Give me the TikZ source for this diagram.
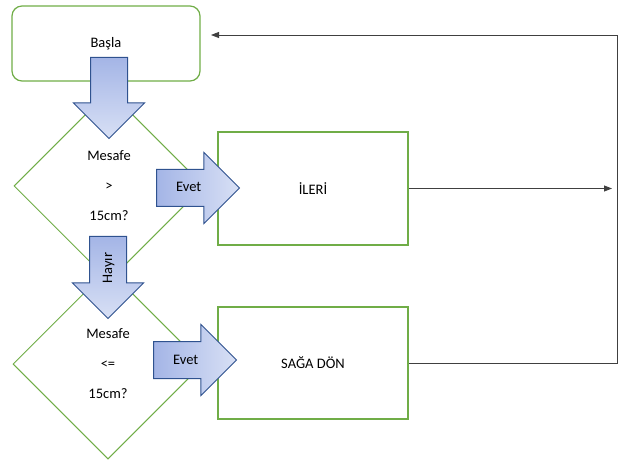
\documentclass[tikz,border=0pt]{standalone}
\usepackage{fontspec}
\setmainfont{Carlito}
\usetikzlibrary{shapes.geometric,shapes.arrows,arrows.meta}
\definecolor{boxgreen}{HTML}{70AD47}
\definecolor{arrowblue}{HTML}{2F528F}
\definecolor{arrowdark}{HTML}{A4B5E6}
\definecolor{arrowlight}{HTML}{D8E0F5}
\definecolor{linegray}{HTML}{404040}

\begin{document}
\begin{tikzpicture}[x=1pt,y=-1pt,font=\fontsize{14.5}{17}\selectfont]

	\tikzstyle{start}=[draw=boxgreen,line width=1.2pt,rounded corners=10pt,
		minimum width=188pt,minimum height=75pt]
	\tikzstyle{decision}=[diamond,draw=boxgreen,line width=1pt,
		minimum width=190pt,minimum height=190pt,inner sep=0pt,
		align=center,font=\fontsize{14.5}{30}\selectfont]
	\tikzstyle{process}=[draw=boxgreen,line width=2pt,
		minimum width=190pt,minimum height=112pt]
	\tikzstyle{block}=[single arrow,draw=arrowblue,line width=1pt,
		single arrow head extend=17pt,minimum height=83pt,minimum width=70pt,
		text height=10pt,text depth=2pt,inner ysep=12pt,inner xsep=4pt,
		anchor=tail]
	\tikzstyle{blockright}=[block,left color=arrowdark,right color=arrowlight]
	\tikzstyle{blockdown}=[block,top color=arrowdark,bottom color=arrowlight,
		shape border rotate=180,rotate=90]
	\tikzstyle{flow}=[draw=linegray,line width=0.9pt,
		-{Triangle[length=8pt,width=6pt]}]

	\useasboundingbox (0,0) rectangle (638,468);

	\node[start]				(basla)		at (106,43.5)	{Başla};
	\node[decision]				(mesafe1)	at (109,186)	{Mesafe\\>\\15cm?};
	\node[decision]				(mesafe2)	at (108,364)	{Mesafe\\<=\\15cm?};
	\node[process,minimum height=113pt]	(ileri)	at (313,188.5)	{İLERİ};
	\node[process]				(saga)		at (313,363)	{SAĞA DÖN};

	\node[blockdown,minimum height=81pt]	(ok1)	at (109,57)	{};
	\node[blockright]			(evet1)		at (156,188)	{Evet};
	\node[blockdown,minimum height=82pt]	(hayir)	at (108,236)	{Hayır};
	\node[blockright]			(evet2)		at (153,360)	{Evet};

	\coordinate (ileriend)	at (612,188);
	\coordinate (donus)		at (617,35);
	\coordinate (baslaend)	at (211,35);

	\draw[flow] (ileri.east) -- (ileri.east -| ileriend);
	\draw[flow] (saga.east) -| (donus) -- (baslaend);

\end{tikzpicture}
\end{document}
